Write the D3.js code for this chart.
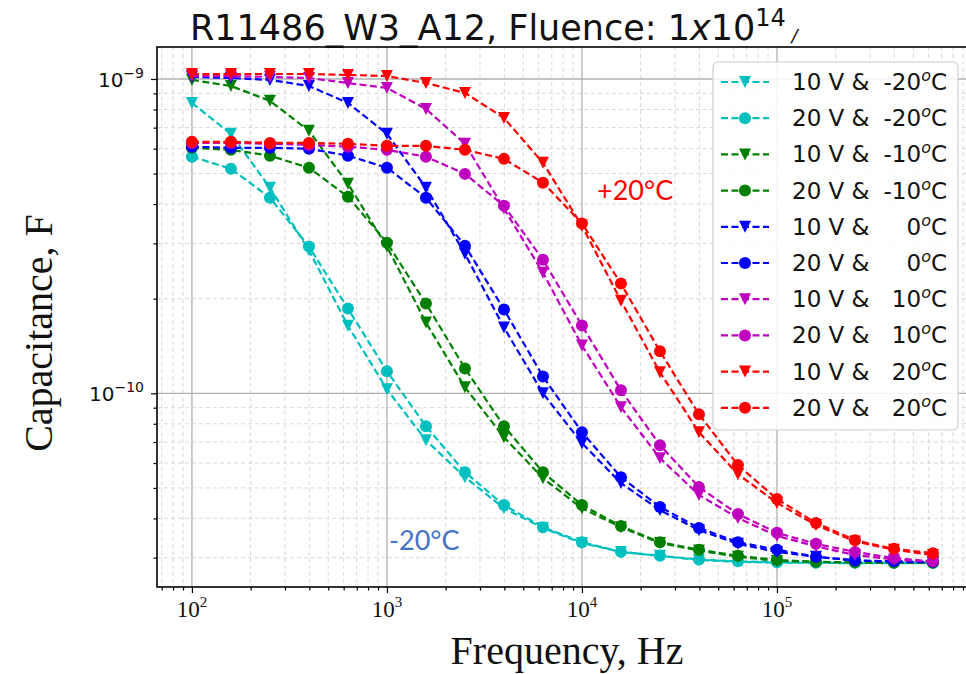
<!DOCTYPE html>
<html>
<head>
<meta charset="utf-8">
<script src="https://cdn.jsdelivr.net/npm/d3@7"></script>
<style>
  body { margin: 0; background: #fff; }
</style>
</head>
<body>
<script>
// frequencies, Hz (5 points per decade)
const freqHz = [100, 158.5, 251.2, 398.1, 631, 1000, 1585, 2512, 3981, 6310,
  10000, 15850, 25120, 39810, 63100, 100000, 158500, 251200, 398100, 631000];

// capacitance in nF (x1e-9 F)
const cap10V_m20 = [0.839, 0.669, 0.451, 0.285, 0.164, 0.103, 0.0709, 0.0541, 0.0431, 0.0373, 0.0334, 0.0313, 0.0304, 0.0295, 0.0291, 0.0289, 0.0289, 0.0288, 0.0288, 0.0288];
const cap20V_m20 = [0.566, 0.518, 0.419, 0.293, 0.186, 0.1175, 0.0786, 0.0561, 0.0441, 0.0375, 0.0336, 0.0313, 0.0304, 0.0296, 0.0292, 0.0290, 0.0289, 0.0289, 0.0289, 0.0289];
const cap10V_m10 = [0.993, 0.950, 0.852, 0.684, 0.464, 0.293, 0.168, 0.1045, 0.0725, 0.0537, 0.0431, 0.0375, 0.0334, 0.0316, 0.0302, 0.0293, 0.0291, 0.0289, 0.0289, 0.0289];
const cap20V_m10 = [0.604, 0.595, 0.570, 0.522, 0.422, 0.3015, 0.193, 0.120, 0.0786, 0.0561, 0.0441, 0.0378, 0.0336, 0.0318, 0.0304, 0.0295, 0.0291, 0.0290, 0.0289, 0.0289];
const cap10V_0 = [1.015, 1.007, 0.993, 0.950, 0.839, 0.669, 0.451, 0.278, 0.162, 0.100, 0.0694, 0.0518, 0.0425, 0.0367, 0.0332, 0.0313, 0.0302, 0.0294, 0.0291, 0.0290];
const cap20V_0 = [0.609, 0.604, 0.604, 0.600, 0.570, 0.522, 0.419, 0.295, 0.1848, 0.1132, 0.0752, 0.0541, 0.0435, 0.0373, 0.0336, 0.0318, 0.0302, 0.0294, 0.0292, 0.0291];
const cap10V_10 = [1.022, 1.022, 1.015, 1.007, 0.971, 0.936, 0.803, 0.622, 0.387, 0.242, 0.142, 0.0903, 0.0622, 0.0475, 0.0401, 0.0352, 0.0326, 0.0306, 0.0296, 0.0291];
const cap20V_10 = [0.626, 0.626, 0.622, 0.617, 0.609, 0.595, 0.566, 0.499, 0.395, 0.266, 0.1644, 0.1022, 0.0684, 0.0503, 0.0413, 0.0360, 0.0332, 0.0313, 0.0299, 0.0292];
const cap10V_20 = [1.037, 1.037, 1.037, 1.037, 1.030, 1.022, 0.971, 0.903, 0.752, 0.541, 0.341, 0.197, 0.1166, 0.0752, 0.0553, 0.0448, 0.0381, 0.0338, 0.0318, 0.0306];
const cap20V_20 = [0.631, 0.631, 0.626, 0.626, 0.622, 0.613, 0.613, 0.595, 0.557, 0.468, 0.347, 0.2234, 0.136, 0.0858, 0.0591, 0.0461, 0.0387, 0.0341, 0.0320, 0.0310];

const seriesVolt = ['10 V &', '20 V &', '10 V &', '20 V &', '10 V &', '20 V &', '10 V &', '20 V &', '10 V &', '20 V &'];
const seriesTemp = ['-20', '-20', '-10', '-10', '0', '0', '10', '10', '20', '20'];
const seriesVals = [cap10V_m20, cap20V_m20, cap10V_m10, cap20V_m10, cap10V_0, cap20V_0, cap10V_10, cap20V_10, cap10V_20, cap20V_20];
const seriesColor = ['#00bfbf', '#00bfbf', '#008000', '#008000', '#0000ff', '#0000ff', '#bf00bf', '#bf00bf', '#ff0000', '#ff0000'];
const seriesMarker = ['v', 'o', 'v', 'o', 'v', 'o', 'v', 'o', 'v', 'o'];

const xMajor = [1e2, 1e3, 1e4, 1e5];
const yMajor = [1e-9, 1e-10];
const xExp = ['2', '3', '4', '5'];
const yExp = ['\u22129', '\u221210'];

const W = 966, H = 674;
const pLeft = 157, pRight = 970, pTop = 47, pBottom = 587;

const svg = d3.select('body').append('svg')
  .attr('width', W)
  .attr('height', H)
  .style('font-family', 'DejaVu Sans');

const x = d3.scaleLog().domain([66.2, 9.77e5]).range([pLeft, pRight]);
const y = d3.scaleLog().domain([2.42e-11, 1.264e-9]).range([pBottom, pTop]);

// minor tick values
let xMinor = [];
for (let e = 1; e <= 5; e++) {
  for (let m = 2; m <= 9; m++) {
    const v = m * Math.pow(10, e);
    if (v > 66.2 && v < 9.77e5) xMinor.push(v);
  }
}
let yMinor = [];
for (let e = -11; e <= -10; e++) {
  for (let m = 2; m <= 9; m++) {
    const v = m * Math.pow(10, e);
    if (v > 2.42e-11 && v < 1.264e-9) yMinor.push(v);
  }
}

svg.append('clipPath').attr('id', 'clip')
  .append('rect')
  .attr('x', pLeft).attr('y', pTop)
  .attr('width', pRight - pLeft).attr('height', pBottom - pTop);

// grid
const grid = svg.append('g').attr('clip-path', 'url(#clip)');
grid.selectAll('.gxm').data(xMinor).enter().append('line')
  .attr('x1', d => x(d)).attr('x2', d => x(d))
  .attr('y1', pTop).attr('y2', pBottom)
  .attr('stroke', '#d9d9d9').attr('stroke-width', 1).attr('stroke-dasharray', '4,3');
grid.selectAll('.gym').data(yMinor).enter().append('line')
  .attr('y1', d => y(d)).attr('y2', d => y(d))
  .attr('x1', pLeft).attr('x2', pRight)
  .attr('stroke', '#d9d9d9').attr('stroke-width', 1).attr('stroke-dasharray', '4,3');
grid.selectAll('.gx').data(xMajor).enter().append('line')
  .attr('x1', d => x(d)).attr('x2', d => x(d))
  .attr('y1', pTop).attr('y2', pBottom)
  .attr('stroke', '#b0b0b0').attr('stroke-width', 1.3);
grid.selectAll('.gy').data(yMajor).enter().append('line')
  .attr('y1', d => y(d)).attr('y2', d => y(d))
  .attr('x1', pLeft).attr('x2', pRight)
  .attr('stroke', '#b0b0b0').attr('stroke-width', 1.3);

// axes
svg.append('g').attr('transform', `translate(0,${pBottom})`)
  .call(d3.axisBottom(x).tickValues(xMajor).tickSize(6).tickFormat(''));
svg.append('g').attr('transform', `translate(0,${pBottom})`)
  .call(d3.axisBottom(x).tickValues(xMinor).tickSize(3.5).tickFormat(''));
svg.append('g').attr('transform', `translate(${pLeft},0)`)
  .call(d3.axisLeft(y).tickValues(yMajor).tickSize(6).tickFormat(''));
svg.append('g').attr('transform', `translate(${pLeft},0)`)
  .call(d3.axisLeft(y).tickValues(yMinor).tickSize(3.5).tickFormat(''));
svg.selectAll('.domain').remove();
svg.selectAll('.tick line').attr('stroke', '#000').attr('stroke-width', 1.2);

// frame
svg.append('rect')
  .attr('x', pLeft).attr('y', pTop)
  .attr('width', pRight - pLeft).attr('height', pBottom - pTop)
  .attr('fill', 'none').attr('stroke', '#000').attr('stroke-width', 1.6);

// tick labels with superscripts
const xl = svg.append('g').selectAll('text').data(xMajor).enter().append('text')
  .attr('x', d => x(d)).attr('y', 617)
  .attr('text-anchor', 'middle')
  .attr('font-family', 'Liberation Serif')
  .attr('font-size', 23).attr('fill', '#111');
xl.append('tspan').text('10');
xl.append('tspan').attr('dy', -10).attr('font-size', 15).text((d, i) => xExp[i]);

const yl = svg.append('g').selectAll('text').data(yMajor).enter().append('text')
  .attr('x', 144).attr('y', d => y(d) + 8)
  .attr('text-anchor', 'end')
  .attr('font-size', 20).attr('fill', '#111');
yl.append('tspan').text('10');
yl.append('tspan').attr('dy', -9).attr('font-size', 14).text((d, i) => yExp[i]);

// series
const plot = svg.append('g').attr('clip-path', 'url(#clip)');
const r = 6;
const triDown = `M${-r},${-r}L${r},${-r}L0,${r}Z`;

seriesVals.forEach((vals, i) => {
  const pts = freqHz.map((f, j) => [f, vals[j] * 1e-9]);
  const line = d3.line().x(d => x(d[0])).y(d => y(d[1]));
  plot.append('path')
    .datum(pts)
    .attr('d', line)
    .attr('fill', 'none')
    .attr('stroke', seriesColor[i])
    .attr('stroke-width', 2.2)
    .attr('stroke-dasharray', '7,3.5');
  const g = plot.append('g');
  if (seriesMarker[i] === 'o') {
    g.selectAll('circle').data(pts).enter().append('circle')
      .attr('cx', d => x(d[0])).attr('cy', d => y(d[1]))
      .attr('r', r).attr('fill', seriesColor[i]);
  } else {
    g.selectAll('path').data(pts).enter().append('path')
      .attr('d', triDown)
      .attr('transform', d => `translate(${x(d[0])},${y(d[1])})`)
      .attr('fill', seriesColor[i]);
  }
});

// legend
const lg = svg.append('g');
lg.append('rect')
  .attr('x', 713).attr('y', 62).attr('width', 245).attr('height', 368)
  .attr('rx', 5).attr('ry', 5)
  .attr('fill', '#fff').attr('fill-opacity', 0.85)
  .attr('stroke', '#d0d0d0').attr('stroke-width', 1.2);
seriesVals.forEach((vals, i) => {
  const cy = 82 + i * 36.2;
  lg.append('line')
    .attr('x1', 721).attr('x2', 769).attr('y1', cy).attr('y2', cy)
    .attr('stroke', seriesColor[i]).attr('stroke-width', 2.2)
    .attr('stroke-dasharray', '7,3.5');
  if (seriesMarker[i] === 'o') {
    lg.append('circle').attr('cx', 745).attr('cy', cy).attr('r', r).attr('fill', seriesColor[i]);
  } else {
    lg.append('path').attr('d', triDown).attr('transform', `translate(745,${cy})`).attr('fill', seriesColor[i]);
  }
  lg.append('text')
    .attr('x', 792).attr('y', cy + 8)
    .attr('font-size', 23).attr('fill', '#111')
    .text(seriesVolt[i]);
  const t = lg.append('text')
    .attr('x', 947).attr('y', cy + 8)
    .attr('text-anchor', 'end')
    .attr('font-size', 23).attr('fill', '#111');
  t.append('tspan').text(seriesTemp[i]);
  t.append('tspan').attr('dy', -9).attr('font-size', 16).attr('font-style', 'italic').text('o');
  t.append('tspan').attr('dy', 9).text('C');
});

// title
const title = svg.append('text')
  .attr('x', 190).attr('y', 40)
  .attr('font-size', 35).attr('fill', '#111');
title.append('tspan').text('R11486_W3_A12, Fluence: 1');
title.append('tspan').attr('font-style', 'italic').text('x');
title.append('tspan').text('10');
title.append('tspan').attr('dy', -14).attr('font-size', 24).text('14');
title.append('tspan').attr('dy', 16).attr('font-size', 18).attr('font-style', 'italic').text(' /');

// axis titles
svg.append('text')
  .attr('x', 567).attr('y', 664)
  .attr('text-anchor', 'middle')
  .attr('font-family', 'Liberation Serif')
  .attr('font-size', 40).attr('fill', '#111')
  .text('Frequency, Hz');
svg.append('text')
  .attr('transform', 'translate(52,333) rotate(-90)')
  .attr('text-anchor', 'middle')
  .attr('font-family', 'Liberation Serif')
  .attr('font-size', 40).attr('fill', '#111')
  .text('Capacitance, F');

// annotations
svg.append('text')
  .attr('x', 597).attr('y', 200)
  .attr('font-family', 'Lato').attr('font-size', 27)
  .attr('fill', '#ff0000')
  .text('+20°C');
svg.append('text')
  .attr('x', 389).attr('y', 550)
  .attr('font-family', 'Lato').attr('font-size', 27)
  .attr('fill', '#4472c4')
  .text('-20°C');
</script>
</body>
</html>
